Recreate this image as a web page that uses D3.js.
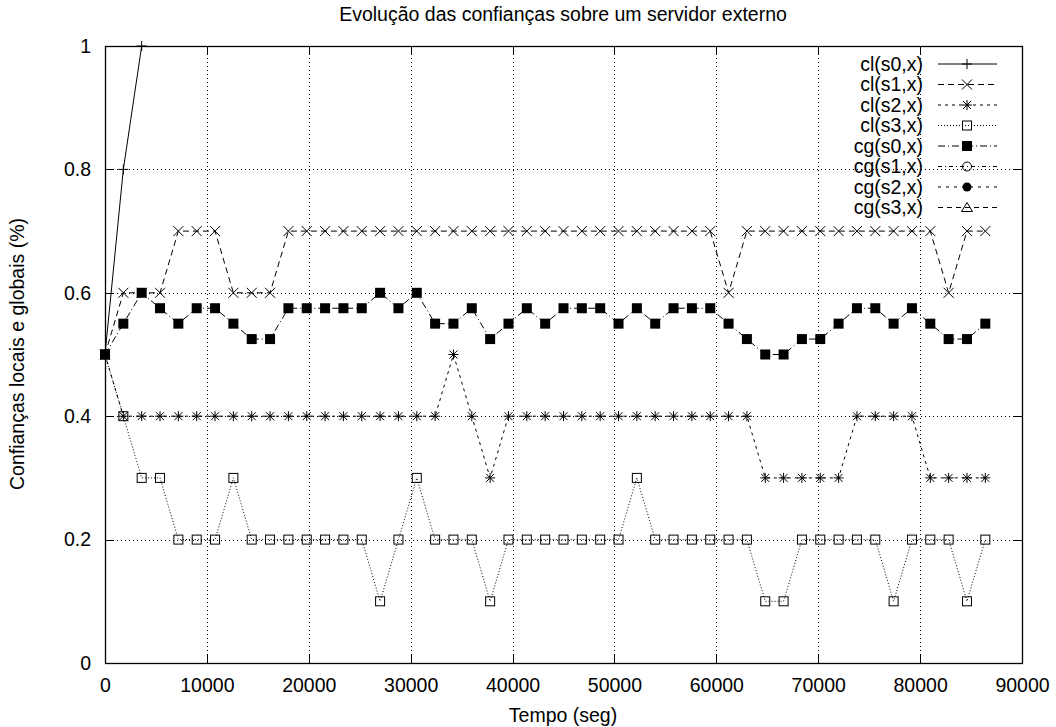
<!DOCTYPE html>
<html>
<head>
<meta charset="utf-8">
<script src="https://cdnjs.cloudflare.com/ajax/libs/d3/7.8.5/d3.min.js"></script>
<style>
body { margin: 0; background: #fff; }
svg { display: block; font-family: "Liberation Sans", Arial, sans-serif; }
</style>
</head>
<body>
<svg id="chart" width="1056" height="727"></svg>
<script>
// sample times (seg)
const tempo = [0, 1800, 3600, 5400, 7200, 9000, 10800, 12600, 14400, 16200,
	18000, 19800, 21600, 23400, 25200, 27000, 28800, 30600, 32400, 34200,
	36000, 37800, 39600, 41400, 43200, 45000, 46800, 48600, 50400, 52200,
	54000, 55800, 57600, 59400, 61200, 63000, 64800, 66600, 68400, 70200,
	72000, 73800, 75600, 77400, 79200, 81000, 82800, 84600, 86400];

// confiancas locais
const cl_s0 = [0.5, 0.8, 1.0];
const cl_s1 = [0.5, 0.6, 0.6, 0.6, 0.7, 0.7, 0.7, 0.6, 0.6, 0.6,
	0.7, 0.7, 0.7, 0.7, 0.7, 0.7, 0.7, 0.7, 0.7, 0.7,
	0.7, 0.7, 0.7, 0.7, 0.7, 0.7, 0.7, 0.7, 0.7, 0.7,
	0.7, 0.7, 0.7, 0.7, 0.6, 0.7, 0.7, 0.7, 0.7, 0.7,
	0.7, 0.7, 0.7, 0.7, 0.7, 0.7, 0.6, 0.7, 0.7];
const cl_s2 = [0.5, 0.4, 0.4, 0.4, 0.4, 0.4, 0.4, 0.4, 0.4, 0.4,
	0.4, 0.4, 0.4, 0.4, 0.4, 0.4, 0.4, 0.4, 0.4, 0.5,
	0.4, 0.3, 0.4, 0.4, 0.4, 0.4, 0.4, 0.4, 0.4, 0.4,
	0.4, 0.4, 0.4, 0.4, 0.4, 0.4, 0.3, 0.3, 0.3, 0.3,
	0.3, 0.4, 0.4, 0.4, 0.4, 0.3, 0.3, 0.3, 0.3];
const cl_s3 = [0.5, 0.4, 0.3, 0.3, 0.2, 0.2, 0.2, 0.3, 0.2, 0.2,
	0.2, 0.2, 0.2, 0.2, 0.2, 0.1, 0.2, 0.3, 0.2, 0.2,
	0.2, 0.1, 0.2, 0.2, 0.2, 0.2, 0.2, 0.2, 0.2, 0.3,
	0.2, 0.2, 0.2, 0.2, 0.2, 0.2, 0.1, 0.1, 0.2, 0.2,
	0.2, 0.2, 0.2, 0.1, 0.2, 0.2, 0.2, 0.1, 0.2];
// confianca global (as outras cg ficam escondidas por baixo)
const cg_s0 = [0.5, 0.55, 0.6, 0.575, 0.55, 0.575, 0.575, 0.55, 0.525, 0.525,
	0.575, 0.575, 0.575, 0.575, 0.575, 0.6, 0.575, 0.6, 0.55, 0.55,
	0.575, 0.525, 0.55, 0.575, 0.55, 0.575, 0.575, 0.575, 0.55, 0.575,
	0.55, 0.575, 0.575, 0.575, 0.55, 0.525, 0.5, 0.5, 0.525, 0.525,
	0.55, 0.575, 0.575, 0.55, 0.575, 0.55, 0.525, 0.525, 0.55];

const xTicks = [0, 10000, 20000, 30000, 40000, 50000, 60000, 70000, 80000, 90000];
const yTicks = [0, 0.2, 0.4, 0.6, 0.8, 1];
const legendLabels = ['cl(s0,x)', 'cl(s1,x)', 'cl(s2,x)', 'cl(s3,x)', 'cg(s0,x)', 'cg(s1,x)', 'cg(s2,x)', 'cg(s3,x)'];

const pLeft = 105, pRight = 1022, pTop = 46, pBottom = 663;
const FONT = 19.5;

const svg = d3.select('#chart');
const x = d3.scaleLinear().domain([0, 90000]).range([pLeft, pRight]);
const y = d3.scaleLinear().domain([0, 1]).range([pBottom, pTop]);

// marker shapes
const markers = {
	plus: g => g.append('path').attr('d', 'M-5,0H5M0,-5V5').attr('stroke', '#000').attr('fill', 'none'),
	cross: g => g.append('path').attr('d', 'M-5,-5L5,5M-5,5L5,-5').attr('stroke', '#000').attr('fill', 'none'),
	star: g => g.append('path').attr('d', 'M-5,0H5M0,-5V5M-4,-4L4,4M-4,4L4,-4').attr('stroke', '#000').attr('fill', 'none'),
	box: g => g.append('rect').attr('x', -4.5).attr('y', -4.5).attr('width', 9).attr('height', 9).attr('stroke', '#000').attr('fill', 'none'),
	fbox: g => g.append('rect').attr('x', -5).attr('y', -5).attr('width', 10).attr('height', 10).attr('fill', '#000'),
	circle: g => g.append('circle').attr('r', 4.5).attr('stroke', '#000').attr('fill', 'none'),
	fcircle: g => g.append('circle').attr('r', 4.5).attr('fill', '#000'),
	triangle: g => g.append('path').attr('d', 'M0,-5L5.5,4H-5.5Z').attr('stroke', '#000').attr('fill', 'none'),
};

const series = [
	{ values: cl_s0, marker: 'plus', dash: null },
	{ values: cl_s1, marker: 'cross', dash: '6,4' },
	{ values: cl_s2, marker: 'star', dash: '3,4' },
	{ values: cl_s3, marker: 'box', dash: '1,2' },
	{ values: cg_s0, marker: 'fbox', dash: '7,3,1,3' },
	{ values: null, marker: 'circle', dash: '4,3,1,3' },
	{ values: null, marker: 'fcircle', dash: '3,5' },
	{ values: null, marker: 'triangle', dash: '5,4' },
];

// grid
const grid = svg.append('g').attr('stroke', '#000').attr('stroke-width', 1).attr('stroke-dasharray', '1,3');
grid.selectAll('.gx').data(xTicks.slice(1, -1)).join('line')
	.attr('x1', d => Math.round(x(d)) + 0.5).attr('x2', d => Math.round(x(d)) + 0.5)
	.attr('y1', pTop).attr('y2', pBottom);
grid.selectAll('.gy').data(yTicks.slice(1, -1)).join('line')
	.attr('y1', d => Math.round(y(d)) + 0.5).attr('y2', d => Math.round(y(d)) + 0.5)
	.attr('x1', pLeft).attr('x2', pRight);

// axes: tick labels via d3 axes, ticks drawn inward
const xAxis = d3.axisBottom(x).tickValues(xTicks).tickFormat(d3.format('d')).tickSize(0).tickPadding(15);
const yAxis = d3.axisLeft(y).tickValues(yTicks).tickFormat(d => d === 0 || d === 1 ? d3.format('d')(d) : d3.format('.1f')(d)).tickSize(0).tickPadding(14);
svg.append('g').attr('transform', `translate(0,${pBottom})`).call(xAxis)
	.call(g => g.select('.domain').remove())
	.selectAll('text').attr('font-size', FONT).attr('fill', '#000');
svg.append('g').attr('transform', `translate(${pLeft},0)`).call(yAxis)
	.call(g => g.select('.domain').remove())
	.selectAll('text').attr('font-size', FONT).attr('fill', '#000');
svg.selectAll('.tick text').attr('font-family', '"Liberation Sans", Arial, sans-serif');

const ticks = svg.append('g').attr('stroke', '#000').attr('stroke-width', 1);
xTicks.forEach(d => {
	const px = Math.round(x(d)) + 0.5;
	ticks.append('line').attr('x1', px).attr('x2', px).attr('y1', pBottom).attr('y2', pBottom - 9);
	ticks.append('line').attr('x1', px).attr('x2', px).attr('y1', pTop).attr('y2', pTop + 9);
});
yTicks.forEach(d => {
	const py = Math.round(y(d)) + 0.5;
	ticks.append('line').attr('y1', py).attr('y2', py).attr('x1', pLeft).attr('x2', pLeft + 9);
	ticks.append('line').attr('y1', py).attr('y2', py).attr('x1', pRight).attr('x2', pRight - 9);
});

// border
svg.append('rect').attr('x', pLeft + 0.5).attr('y', pTop + 0.5)
	.attr('width', pRight - pLeft).attr('height', pBottom - pTop)
	.attr('fill', 'none').attr('stroke', '#000').attr('stroke-width', 1.3);

// data
const line = d3.line().x((d, i) => x(tempo[i])).y(d => y(d));
series.forEach(s => {
	if (!s.values) return;
	svg.append('path').datum(s.values)
		.attr('d', line)
		.attr('fill', 'none').attr('stroke', '#000').attr('stroke-width', 1)
		.attr('stroke-dasharray', s.dash);
	svg.append('g').selectAll('g').data(s.values).join('g')
		.attr('transform', (d, i) => `translate(${x(tempo[i])},${y(d)})`)
		.each(function () { markers[s.marker](d3.select(this)); });
});

// legend
const leg = svg.append('g');
legendLabels.forEach((lab, i) => {
	const cy = 64 + i * 20.5;
	leg.append('text').attr('x', 923).attr('y', cy).attr('dy', '0.35em')
		.attr('text-anchor', 'end').attr('font-size', FONT).text(lab);
	leg.append('line').attr('x1', 938).attr('x2', 997).attr('y1', cy).attr('y2', cy)
		.attr('stroke', '#000').attr('stroke-width', 1).attr('stroke-dasharray', series[i].dash);
	const mg = leg.append('g').attr('transform', `translate(967,${cy})`);
	markers[series[i].marker](mg);
});

// titles
svg.append('text').attr('x', 563).attr('y', 21).attr('text-anchor', 'middle')
	.attr('font-size', FONT).text('Evolução das confianças sobre um servidor externo');
svg.append('text').attr('x', 563).attr('y', 722).attr('text-anchor', 'middle')
	.attr('font-size', FONT).text('Tempo (seg)');
svg.append('text').attr('transform', 'translate(24,354) rotate(-90)').attr('text-anchor', 'middle')
	.attr('font-size', FONT).text('Confianças locais e globais (%)');
</script>
</body>
</html>
